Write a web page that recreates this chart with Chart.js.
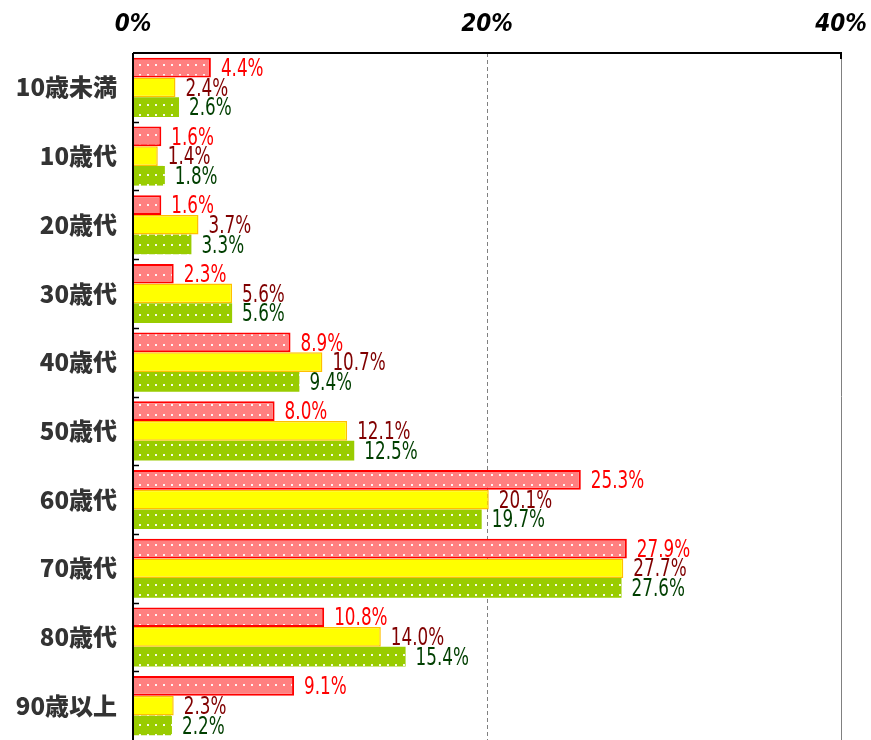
<!DOCTYPE html>
<html>
<head>
<meta charset="utf-8">
<script src="https://cdn.jsdelivr.net/npm/chart.js@4"></script>
<style>
html,body{margin:0;padding:0;background:#fff;}
#wrap{width:871px;height:740px;position:relative;}
</style>
</head>
<body>
<div id="wrap"><canvas id="c"></canvas></div>
<script>
const categories = ['10歳未満','10歳代','20歳代','30歳代','40歳代','50歳代','60歳代','70歳代','80歳代','90歳以上'];
const seriesRed    = [4.4, 1.6, 1.6, 2.3, 8.9, 8.0, 25.3, 27.9, 10.8, 9.1];
const seriesYellow = [2.4, 1.4, 3.7, 5.6, 10.7, 12.1, 20.1, 27.7, 14.0, 2.3];
const seriesGreen  = [2.6, 1.8, 3.3, 5.6, 9.4, 12.5, 19.7, 27.6, 15.4, 2.2];
const xTicks = [0, 20, 40];

function dotPattern(bg, w, h) {
  const c = document.createElement('canvas');
  c.width = w; c.height = h;
  const g = c.getContext('2d');
  g.fillStyle = bg; g.fillRect(0, 0, w, h);
  g.fillStyle = 'rgba(255,255,255,0.9)';
  g.fillRect(Math.floor(w/2)-1, Math.floor(h/2)-1, 2, 2);
  return g.createPattern(c, 'repeat');
}
const ctx0 = document.getElementById('c').getContext('2d');
const redFill = dotPattern('#FF8080', 8, 10);
const greenFill = dotPattern('#99CC00', 8, 10);

const labelColors = ['#FF0000', '#800000', '#003F00'];

const labelPlugin = {
  id: 'vals',
  afterDatasetsDraw(chart) {
    const c = chart.ctx;
    chart.data.datasets.forEach((ds, i) => {
      const meta = chart.getDatasetMeta(i);
      meta.data.forEach((bar, j) => {
        c.save();
        c.font = '24px "DejaVu Sans", sans-serif';
        c.textBaseline = 'middle';
        c.textAlign = 'left';
        c.fillStyle = labelColors[i];
        c.translate(bar.x + 10, bar.y + 2);
        c.scale(0.7, 1);
        c.fillText(ds.data[j].toFixed(1) + '%', 0, 0);
        c.restore();
      });
    });
  }
};

const framePlugin = {
  id: 'frame',
  beforeDatasetsDraw(chart) {
    const c = chart.ctx, a = chart.chartArea;
    const xs = chart.scales.x;
    c.save();
    c.strokeStyle = '#808080';
    c.lineWidth = 1;
    c.setLineDash([4, 3]);
    let x20 = Math.round(xs.getPixelForValue(20)) + 0.5;
    c.beginPath(); c.moveTo(x20, a.top); c.lineTo(x20, a.bottom); c.stroke();
    c.setLineDash([]);
    let x40 = Math.round(xs.getPixelForValue(40)) + 0.5;
    c.beginPath(); c.moveTo(x40, a.top); c.lineTo(x40, a.bottom); c.stroke();
    c.restore();
  },
  afterDatasetsDraw(chart) {
    const c = chart.ctx, a = chart.chartArea;
    const xs = chart.scales.x, ys = chart.scales.y;
    c.save();
    c.strokeStyle = '#000';
    c.lineWidth = 2;
    const x0 = xs.getPixelForValue(0);
    const x40 = xs.getPixelForValue(40);
    c.beginPath(); c.moveTo(x0, a.top); c.lineTo(x40 + 1, a.top); c.stroke();
    c.beginPath(); c.moveTo(x0, a.top); c.lineTo(x0, a.bottom); c.stroke();
    c.beginPath(); c.moveTo(x40, a.top); c.lineTo(x40, a.top + 6); c.stroke();
    c.lineWidth = 1.5;
    const n = categories.length;
    for (let k = 1; k < n; k++) {
      const y = Math.round((ys.getPixelForValue(k - 1) + ys.getPixelForValue(k)) / 2) + 0.5;
      c.beginPath(); c.moveTo(x0, y); c.lineTo(x0 + 6, y); c.stroke();
    }
    c.restore();
  }
};

new Chart(ctx0, {
  type: 'bar',
  data: {
    labels: categories,
    datasets: [
      { data: seriesRed, backgroundColor: redFill, borderColor: '#FF0000', borderWidth: 2, borderSkipped: 'start' },
      { data: seriesYellow, backgroundColor: '#FFFF00', borderColor: '#FFC000', borderWidth: 1.5, borderSkipped: 'start' },
      { data: seriesGreen, backgroundColor: greenFill, borderWidth: 0 }
    ]
  },
  options: {
    indexAxis: 'y',
    responsive: true,
    maintainAspectRatio: false,
    animation: false,
    layout: { padding: { left: 0, right: 30, top: 0, bottom: 0 } },
    datasets: { bar: { categoryPercentage: 0.86, barPercentage: 1.0 } },
    plugins: { legend: { display: false }, tooltip: { enabled: false } },
    scales: {
      x: {
        position: 'top',
        min: 0, max: 40,
        afterBuildTicks(s) { s.ticks = xTicks.map(v => ({ value: v })); },
        afterFit(s) { s.height = 53; s.paddingLeft = 0; s.paddingRight = 0; },
        grid: { display: false },
        border: { display: false },
        ticks: {
          padding: 6,
          color: '#000',
          font: { family: '"DejaVu Sans Condensed", "DejaVu Sans", sans-serif', size: 24, weight: 'bold', style: 'italic' },
          callback: v => v + '%'
        }
      },
      y: {
        afterFit(s) { s.width = 133; s.paddingTop = 0; s.paddingBottom = 0; },
        grid: { display: false },
        border: { display: false },
        ticks: {
          padding: 8,
          color: '#333333',
          font: { family: '"Noto Sans CJK JP", sans-serif', size: 24, weight: '900' }
        }
      }
    }
  },
  plugins: [framePlugin, labelPlugin]
});
</script>
</body>
</html>
